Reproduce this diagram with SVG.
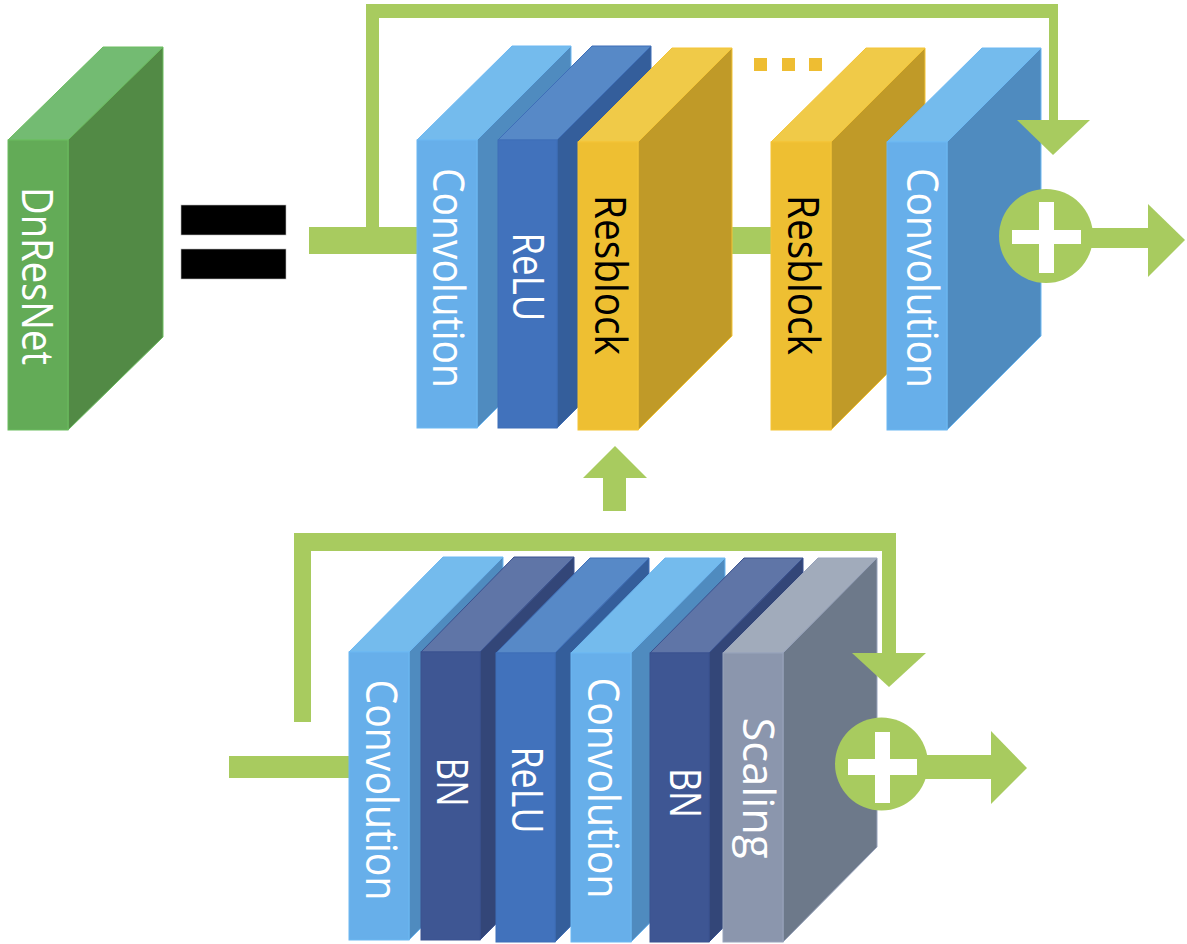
<svg xmlns="http://www.w3.org/2000/svg" width="1187" height="944" viewBox="0 0 1187 944">
<style>
.lbl{font-family:"Open Sans","Noto Sans","Liberation Sans",sans-serif;font-size:43px;font-weight:400;text-anchor:middle}
.w{fill:#ffffff}.k{fill:#000000}
.g{fill:#a8cb5f}
.conv .f{fill:#67afea}.conv .t{fill:#74bbed}.conv .s{fill:#4f8bbf}
.conv polygon,.conv rect{stroke:#6db8f2;stroke-width:1}
.relu .f{fill:#4172bc}.relu .t{fill:#5789c7}.relu .s{fill:#345e9b}
.relu polygon,.relu rect{stroke:#3f6fb8;stroke-width:1}
.res .f{fill:#eebf32}.res .t{fill:#f0ca48}.res .s{fill:#c09a28}
.res polygon,.res rect{stroke:#f4c436;stroke-width:1}
.bn .f{fill:#3e5693}.bn .t{fill:#5f75a7}.bn .s{fill:#334678}
.bn polygon,.bn rect{stroke:#3a5290;stroke-width:1}
.scl .f{fill:#8b96ad}.scl .t{fill:#a1abbb}.scl .s{fill:#6d798a}
.scl polygon,.scl rect{stroke:#98a3bb;stroke-width:1}
.dn .f{fill:#63ab57}.dn .t{fill:#73bb72}.dn .s{fill:#528a45}
.dn polygon,.dn rect{stroke:#6cbd60;stroke-width:1}
</style>

<!-- DnResNet -->
<g id="dnresnet" class="dn">
<polygon class="t" points="8,140 103,47 163,47 68,140"/>
<polygon class="s" points="68,140 163,47 163,337 68,430"/>
<rect class="f" x="8" y="140" width="60" height="290"/>
<text class="lbl w" transform="translate(22,276) rotate(90)" textLength="178" lengthAdjust="spacingAndGlyphs" font-size="40">DnResNet</text>
</g>

<g id="equals">
<rect x="181" y="205" width="105" height="30" fill="#000" stroke="#bbb" stroke-width="0.6"/>
<rect x="181" y="249" width="105" height="30" fill="#000" stroke="#bbb" stroke-width="0.6"/>
</g>

<!-- main lines behind blocks -->
<g id="connectors-main">
<rect class="g" x="309" y="227" width="595" height="27"/>
<rect class="g" x="229" y="756" width="121" height="22"/>
</g>

<!-- top row -->
<g id="top-conv1" class="conv">
<polygon class="t" points="417,140 512,46 571,46 477,140"/>
<polygon class="s" points="477,140 571,46 571,334 477,428"/>
<rect class="f" x="417" y="140" width="60" height="288"/>
<text class="lbl w" transform="translate(433,278) rotate(90)" textLength="220" lengthAdjust="spacingAndGlyphs">Convolution</text>
</g>
<g id="top-relu" class="relu">
<polygon class="t" points="498,140 592,46 651,46 557,140"/>
<polygon class="s" points="557,140 651,46 651,334 557,428"/>
<rect class="f" x="498" y="140" width="59" height="288"/>
<text class="lbl w" transform="translate(513,277) rotate(90)" textLength="89" lengthAdjust="spacingAndGlyphs">ReLU</text>
</g>
<g id="top-resblock1" class="res">
<polygon class="t" points="578,142 672,48 732,48 638,142"/>
<polygon class="s" points="638,142 732,48 732,336 638,430"/>
<rect class="f" x="578" y="142" width="60" height="288"/>
<text class="lbl k" transform="translate(595,275) rotate(90)" textLength="160" lengthAdjust="spacingAndGlyphs">Resblock</text>
</g>
<g id="dots">
<rect x="754" y="58" width="13" height="13" fill="#eebd32"/>
<rect x="782" y="58" width="13" height="13" fill="#eebd32"/>
<rect x="809" y="58" width="13" height="13" fill="#eebd32"/>
</g>
<g id="top-resblock2" class="res">
<polygon class="t" points="771,142 866,48 925,48 831,142"/>
<polygon class="s" points="831,142 925,48 925,336 831,430"/>
<rect class="f" x="771" y="142" width="60" height="288"/>
<text class="lbl k" transform="translate(788,275) rotate(90)" textLength="160" lengthAdjust="spacingAndGlyphs">Resblock</text>
</g>
<g id="top-conv2" class="conv">
<polygon class="t" points="887,142 982,48 1041,48 947,142"/>
<polygon class="s" points="947,142 1041,48 1041,336 947,430"/>
<rect class="f" x="887" y="142" width="60" height="288"/>
<text class="lbl w" transform="translate(907,278) rotate(90)" textLength="220" lengthAdjust="spacingAndGlyphs">Convolution</text>
</g>

<!-- bottom row -->
<g id="bot-conv1" class="conv">
<polygon class="t" points="349,652 443,557 503,557 409,652"/>
<polygon class="s" points="409,652 503,557 503,845 409,940"/>
<rect class="f" x="349" y="652" width="60" height="288"/>
<text class="lbl w" transform="translate(366,790) rotate(90)" textLength="221" lengthAdjust="spacingAndGlyphs">Convolution</text>
</g>
<g id="bot-bn1" class="bn">
<polygon class="t" points="421,652 514,557 574,557 480,652"/>
<polygon class="s" points="480,652 574,557 574,845 480,940"/>
<rect class="f" x="421" y="652" width="59" height="288"/>
<text class="lbl w" transform="translate(437,782) rotate(90)" textLength="49" lengthAdjust="spacingAndGlyphs">BN</text>
</g>
<g id="bot-relu" class="relu">
<polygon class="t" points="496,653 590,558 649,558 555,653"/>
<polygon class="s" points="555,653 649,558 649,847 555,942"/>
<rect class="f" x="496" y="653" width="59" height="289"/>
<text class="lbl w" transform="translate(512,790) rotate(90)" textLength="87" lengthAdjust="spacingAndGlyphs">ReLU</text>
</g>
<g id="bot-conv2" class="conv">
<polygon class="t" points="571,653 665,558 725,558 631,653"/>
<polygon class="s" points="631,653 725,558 725,847 631,942"/>
<rect class="f" x="571" y="653" width="60" height="289"/>
<text class="lbl w" transform="translate(588,788) rotate(90)" textLength="221" lengthAdjust="spacingAndGlyphs">Convolution</text>
</g>
<g id="bot-bn2" class="bn">
<polygon class="t" points="650,653 744,558 803,558 709,653"/>
<polygon class="s" points="709,653 803,558 803,847 709,942"/>
<rect class="f" x="650" y="653" width="59" height="289"/>
<text class="lbl w" transform="translate(670,793) rotate(90)" textLength="50" lengthAdjust="spacingAndGlyphs">BN</text>
</g>
<g id="bot-scaling" class="scl">
<polygon class="t" points="723,653 818,558 877,558 783,653"/>
<polygon class="s" points="783,653 877,558 877,847 783,942"/>
<rect class="f" x="723" y="653" width="60" height="289"/>
<text class="lbl w" transform="translate(743,788) rotate(90)" textLength="141" lengthAdjust="spacingAndGlyphs">Scaling</text>
</g>

<!-- connectors in front -->
<g id="connectors">
<!-- top skip -->
<rect class="g" x="366" y="4" width="691" height="14"/>
<rect class="g" x="366" y="4" width="13" height="236"/>
<rect class="g" x="1049" y="4" width="9" height="118"/>
<polygon class="g" points="1017,120 1090,120 1053,155"/>
<!-- top sum -->
<circle class="g" cx="1046" cy="236" r="47"/>
<rect x="1012" y="230" width="69" height="14" fill="#fff"/>
<rect x="1039" y="202" width="15" height="71" fill="#fff"/>
<rect class="g" x="1085" y="228" width="65" height="20"/>
<polygon class="g" points="1148,204 1185,240 1148,277"/>
<!-- up arrow -->
<polygon class="g" points="615,446 647,478 626,478 626,511 603,511 603,478 583,478"/>
<!-- bottom skip -->
<rect class="g" x="294" y="533" width="602" height="18"/>
<rect class="g" x="294" y="533" width="17" height="189"/>
<rect class="g" x="882" y="533" width="14" height="122"/>
<polygon class="g" points="852,653 926,653 889,687"/>
<!-- bottom sum -->
<circle class="g" cx="881.5" cy="764" r="46.5"/>
<rect x="848" y="759" width="69" height="16" fill="#fff"/>
<rect x="875" y="732" width="15" height="71" fill="#fff"/>
<rect class="g" x="920" y="755" width="73" height="24"/>
<polygon class="g" points="991,731 1027,768 991,804"/>
</g>
</svg>
